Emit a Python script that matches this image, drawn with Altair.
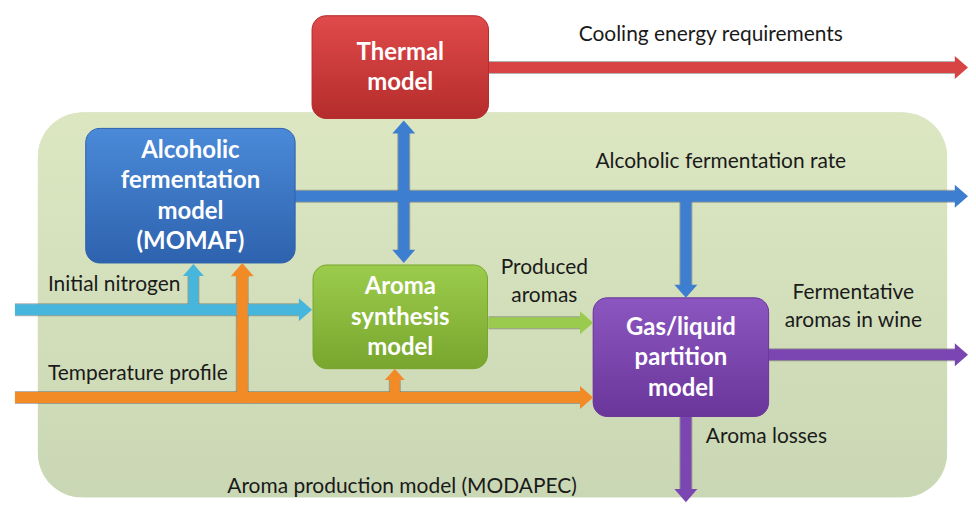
import altair as alt
import pandas as pd

# ---------------- data (image pixel coordinates) ----------------
# model boxes
box_names = ["thermal", "momaf", "aroma", "gas"]
box_labels = ["Thermal\nmodel",
              "Alcoholic\nfermentation\nmodel\n(MOMAF)",
              "Aroma\nsynthesis\nmodel",
              "Gas/liquid\npartition\nmodel"]
box_x0 = [310, 83, 311, 592]
box_x1 = [487, 293, 486, 768]
box_y0 = [15, 128, 265, 298]
box_y1 = [118, 263, 369, 417]
box_top = ["#e04a4a", "#4a8ad8", "#9ccc4c", "#8c56c0"]
box_bottom = ["#b52c2c", "#2e62ae", "#78a62e", "#6a369a"]

# arrows: start -> tip
arrow_names = ["cooling", "ferm_rate", "thermal_link", "ferm_to_gas", "nitrogen",
               "nitrogen_up", "temperature", "temp_up", "temp_aroma", "produced",
               "wine", "losses"]
arrow_x0 = [487, 293, 402, 685, 12, 191, 12, 240, 393, 487, 768, 685]
arrow_y0 = [67, 196, 263, 196, 310, 310, 398, 398, 398, 323, 355, 417]
arrow_x1 = [968, 968, 402, 685, 310, 191, 592, 240, 393, 592, 968, 685]
arrow_y1 = [67, 196, 120, 298, 310, 264, 398, 263, 369, 323, 355, 503]
arrow_color = ["#d84444", "#3d7ed0", "#3d7ed0", "#3d7ed0", "#46b6dc", "#46b6dc",
               "#f28a26", "#f28a26", "#f28a26", "#9acb4e", "#7b46b2", "#7b46b2"]
arrow_width = [11, 11, 11, 11, 11, 10, 11, 11, 10, 11, 11, 11]
arrow_head = [23, 23, 23, 23, 23, 21, 23, 23, 20, 23, 23, 23]
arrow_double = [False, False, True, False, False, False, False, False, False, False, False, False]

# free labels
label_text = ["Cooling energy requirements", "Alcoholic fermentation rate",
              "Initial nitrogen", "Temperature profile", "Produced\naromas",
              "Fermentative\naromas in wine", "Aroma losses",
              "Aroma production model (MODAPEC)"]
label_x = [710, 720, 45, 45, 543, 853, 705, 225]
label_y = [34, 162, 285, 374, 282, 307, 438, 488]
label_align = ["center", "center", "left", "left", "center", "center", "left", "left"]

# background panel
panel_x = [35, 947]
panel_y = [112, 498]

# ---------------- build tables ----------------
W, H = 960, 495
xs = alt.Scale(domain=[8, 8 + W], nice=False, zero=False)
ys = alt.Scale(domain=[8, 8 + H], nice=False, zero=False, reverse=True)

HEAD_PATHS = {
    "right": "M -1.15 -1 L 0 0 L -1.15 1 Z",
    "left": "M 1.15 -1 L 0 0 L 1.15 1 Z",
    "up": "M -1 1.15 L 0 0 L 1 1.15 Z",
    "down": "M -1 -1.15 L 0 0 L 1 -1.15 Z",
}


def direction(x0, y0, x1, y1):
    if x1 > x0:
        return "right", 1, 0
    if x1 < x0:
        return "left", -1, 0
    if y1 > y0:
        return "down", 0, 1
    return "up", 0, -1


shaft_rows, head_rows = [], []
for i, n in enumerate(arrow_names):
    x0, y0, x1, y1 = arrow_x0[i], arrow_y0[i], arrow_x1[i], arrow_y1[i]
    d, dx, dy = direction(x0, y0, x1, y1)
    back = 0.45 * arrow_head[i]
    sx0, sy0 = x0, y0
    if arrow_double[i]:
        d2, _, _ = direction(x1, y1, x0, y0)
        head_rows.append(dict(x=x0, y=y0, shape=HEAD_PATHS[d2],
                              size=arrow_head[i] ** 2, color=arrow_color[i]))
        sx0, sy0 = x0 + dx * back, y0 + dy * back
    sx1, sy1 = x1 - dx * back, y1 - dy * back
    shaft_rows.append(dict(x=sx0, y=sy0, x2=sx1, y2=sy1, color=arrow_color[i],
                           w=arrow_width[i], w2=arrow_width[i] + 2))
    head_rows.append(dict(x=x1, y=y1, shape=HEAD_PATHS[d],
                          size=arrow_head[i] ** 2, color=arrow_color[i]))

shafts = pd.DataFrame(shaft_rows)
heads = pd.DataFrame(head_rows)

boxes = pd.DataFrame(dict(name=box_names, x0=box_x0, x1=box_x1, y0=box_y0, y1=box_y1))


def explode(texts, xs_, ys_, lh, extra=None):
    rows = []
    for i, t in enumerate(texts):
        lines = t.split("\n")
        n = len(lines)
        for k, ln in enumerate(lines):
            r = dict(text=ln, x=xs_[i], y=ys_[i] + (k - (n - 1) / 2) * lh)
            if extra is not None:
                r["align"] = extra[i]
            rows.append(r)
    return pd.DataFrame(rows)


box_cx = [(a + b) / 2 for a, b in zip(box_x0, box_x1)]
box_cy = [(a + b) / 2 + 1 for a, b in zip(box_y0, box_y1)]
box_text = explode(box_labels, box_cx, box_cy, 30.5)
labels = explode(label_text, label_x, label_y, 28, label_align)
panel = pd.DataFrame(dict(x0=[panel_x[0]], x1=[panel_x[1]], y0=[panel_y[0]], y1=[panel_y[1]]))


def grad(top, bottom):
    return alt.Gradient(gradient="linear", x1=0, x2=0, y1=0, y2=1,
                        stops=[alt.GradientStop(color=top, offset=0),
                               alt.GradientStop(color=bottom, offset=1)])


def X(f):
    return alt.X(f, type="quantitative", scale=xs, axis=None)


def Y(f):
    return alt.Y(f, type="quantitative", scale=ys, axis=None)


layers = []

# background panel (shadow + fill)
layers.append(alt.Chart(panel).mark_rect(cornerRadius=46, color="#c3cfae").encode(
    x=X("x0"), x2="x1", y=Y("y0"), y2="y1"))
layers.append(alt.Chart(panel).mark_rect(cornerRadius=44, color=grad("#dce7c2", "#cad7b4")).encode(
    x=X("x0"), x2="x1", y=Y("y0"), y2="y1"))

# arrow shafts: darker edge, main colour
layers.append(alt.Chart(shafts).mark_rule(strokeCap="butt", opacity=0.45).encode(
    x=X("x"), y=Y("y"), x2="x2", y2="y2",
    color=alt.value("#555555"),
    strokeWidth=alt.StrokeWidth("w2:Q", scale=None)))
layers.append(alt.Chart(shafts).mark_rule(strokeCap="butt").encode(
    x=X("x"), y=Y("y"), x2="x2", y2="y2",
    color=alt.Color("color:N", scale=None),
    strokeWidth=alt.StrokeWidth("w:Q", scale=None)))

# boxes
for i, n in enumerate(box_names):
    base = alt.Chart(boxes).transform_filter(alt.datum.name == n)
    layers.append(base.mark_rect(cornerRadius=15, color=box_bottom[i], opacity=0.6).encode(
        x=X("x0"), x2="x1", y=Y("y0"), y2="y1"))
    layers.append(base.mark_rect(cornerRadius=14, color=grad(box_top[i], box_bottom[i]),
                                 stroke=box_bottom[i], strokeWidth=1).encode(
        x=X("x0"), x2="x1", y=Y("y0"), y2="y1"))

# arrow heads
layers.append(alt.Chart(heads).mark_point(filled=True, opacity=1, strokeWidth=0).encode(
    x=X("x"), y=Y("y"),
    shape=alt.Shape("shape:N", scale=None),
    size=alt.Size("size:Q", scale=None),
    color=alt.Color("color:N", scale=None)))

# box labels
layers.append(alt.Chart(box_text).mark_text(
    font="Lato", fontSize=24, fontWeight="bold", color="white",
    align="center", baseline="middle").encode(
    x=X("x"), y=Y("y"), text="text:N"))

# free labels
for al in ["center", "left"]:
    layers.append(alt.Chart(labels).transform_filter(alt.datum.align == al).mark_text(
        font="Lato", fontSize=21, color="#1a1a1a",
        align=al, baseline="middle").encode(
        x=X("x"), y=Y("y"), text="text:N"))

chart = alt.layer(*layers).properties(width=W, height=H, padding=0).configure_view(stroke=None)

chart.save("out.html", embed_options={"renderer": "svg", "actions": False})
